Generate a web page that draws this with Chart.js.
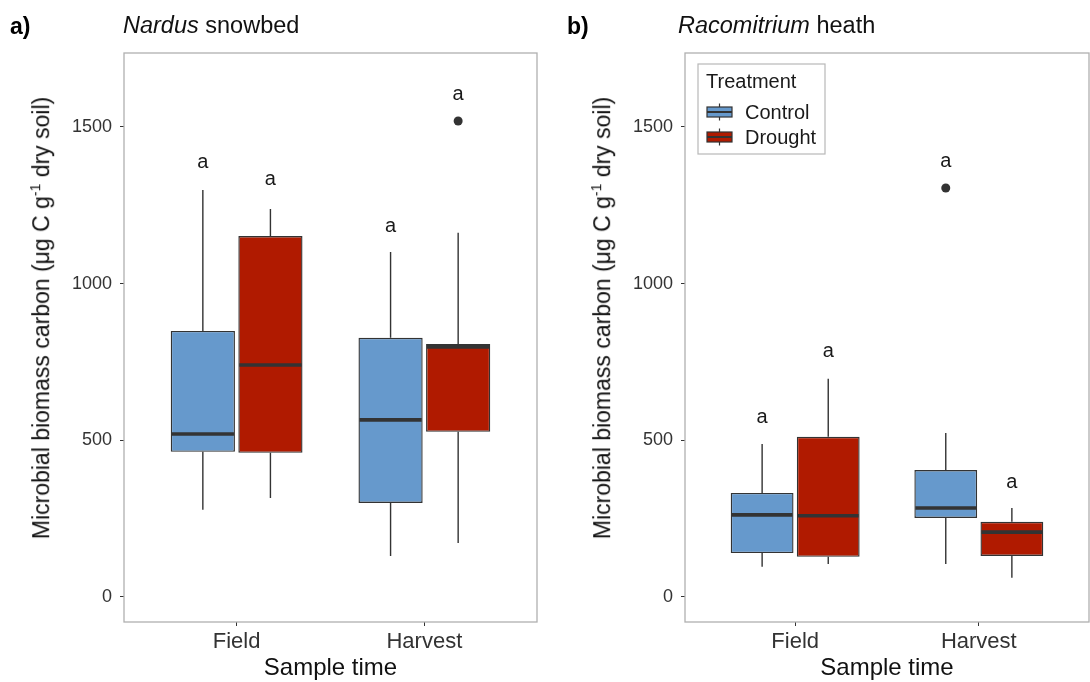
<!DOCTYPE html>
<html>
<head>
<meta charset="utf-8">
<script src="https://cdn.jsdelivr.net/npm/chart.js@4"></script>
<style>
  body { margin: 0; background: #fff; font-family: "Liberation Sans", Arial, sans-serif; }
  #wrap { position: relative; width: 1090px; height: 682px; overflow: hidden; }
  canvas { position: absolute; top: 0; }
  .tag { position: absolute; top: 15px; font-size: 23px; font-weight: bold; line-height: 22px; color: #000; }
  .ttl { position: absolute; top: 14px; font-size: 23.5px; line-height: 22px; color: #111; white-space: nowrap; }
  .ytitle { position: absolute; top: 318px; font-size: 23px; color: #111; white-space: nowrap;
            transform: translate(-50%, -50%) rotate(-90deg); }
  .ytitle sup { font-size: 14px; }
</style>
</head>
<body>
<div id="wrap">
  <canvas id="chartA" width="545" height="682" style="left:0"></canvas>
  <canvas id="chartB" width="545" height="682" style="left:545px"></canvas>
  <div class="tag" style="left:10px">a)</div>
  <div class="ttl" style="left:123px"><i>Nardus</i> snowbed</div>
  <div class="tag" style="left:567px">b)</div>
  <div class="ttl" style="left:678px"><i>Racomitrium</i> heath</div>
  <div class="ytitle" style="left:41px">Microbial biomass carbon (μg C g<sup>-1</sup> dry soil)</div>
  <div class="ytitle" style="left:602px">Microbial biomass carbon (μg C g<sup>-1</sup> dry soil)</div>
</div>
<script>
const sampleTimes = ['Field', 'Harvest'];
const treatments  = ['Control', 'Drought'];
const yTicks = [0, 500, 1000, 1500];

// box stats per sample time: [whisker low, q1, median, q3, whisker high]
const nardusControl = [[278, 463, 520, 849, 1299], [131, 300, 565, 827, 1101]];
const nardusDrought = [[316, 460, 740, 1152, 1238], [172, 527, 798, 807, 1162]];
const racoControl   = [[96, 140, 262, 332, 488], [105, 252, 284, 405, 523]];
const racoDrought   = [[105, 128, 259, 511, 696], [61, 131, 207, 240, 284]];

// outliers per sample time
const nardusControlOut = [[], []];
const nardusDroughtOut = [[], [1519]];
const racoControlOut   = [[], [1305]];
const racoDroughtOut   = [[], []];

// significance letters and where they sit
const nardusControlLetters = ['a', 'a'];
const nardusDroughtLetters = ['a', 'a'];
const racoControlLetters   = ['a', 'a'];
const racoDroughtLetters   = ['a', 'a'];
const nardusControlLetterY = [1388, 1181];
const nardusDroughtLetterY = [1331, 1602];
const racoControlLetterY   = [574, 1391];
const racoDroughtLetterY   = [782, 364];

const colors = ['#6699cc', '#b01a00'];
const ink = '#333333';

Chart.defaults.font.family = '"Liberation Sans", Arial, sans-serif';

const boxPlugin = {
  id: 'boxes',
  afterDatasetsDraw(chart) {
    const {ctx, scales: {y}} = chart;
    chart.data.datasets.forEach((ds, di) => {
      const meta = chart.getDatasetMeta(di);
      meta.data.forEach((bar, i) => {
        const [lo, q1, med, q3, hi] = ds.stats[i];
        const x = bar.x, half = bar.width / 2;
        ctx.save();
        ctx.strokeStyle = ink;
        ctx.lineWidth = 1.4;
        ctx.beginPath();
        ctx.moveTo(x, y.getPixelForValue(hi)); ctx.lineTo(x, y.getPixelForValue(q3));
        ctx.moveTo(x, y.getPixelForValue(q1)); ctx.lineTo(x, y.getPixelForValue(lo));
        ctx.stroke();
        ctx.lineWidth = 3.6;
        ctx.beginPath();
        ctx.moveTo(x - half + 1, y.getPixelForValue(med));
        ctx.lineTo(x + half - 1, y.getPixelForValue(med));
        ctx.stroke();
        ctx.fillStyle = ink;
        ds.outliers[i].forEach(v => {
          ctx.beginPath();
          ctx.arc(x, y.getPixelForValue(v), 4.5, 0, Math.PI * 2);
          ctx.fill();
        });
        ctx.fillStyle = '#1a1a1a';
        ctx.font = '20px "Liberation Sans", Arial, sans-serif';
        ctx.textAlign = 'center';
        ctx.textBaseline = 'alphabetic';
        ctx.fillText(ds.letters[i], x, y.getPixelForValue(ds.letterY[i]) + 5.5);
        ctx.restore();
      });
    });
  },
  afterDraw(chart) {
    const {ctx, chartArea: a} = chart;
    ctx.save();
    ctx.strokeStyle = '#b0b0b0';
    ctx.lineWidth = 1.3;
    ctx.strokeRect(a.left, a.top, a.right - a.left, a.bottom - a.top);
    const opts = chart.options.plugins.boxes || {};
    if (opts.legend) {
      const lx = a.left + 13, ly = a.top + 11;
      ctx.fillStyle = '#fff';
      ctx.fillRect(lx, ly, 127, 90);
      ctx.strokeStyle = '#b8b8b8';
      ctx.lineWidth = 1.2;
      ctx.strokeRect(lx, ly, 127, 90);
      ctx.fillStyle = '#1a1a1a';
      ctx.font = '20px "Liberation Sans", Arial, sans-serif';
      ctx.textAlign = 'left';
      ctx.textBaseline = 'alphabetic';
      ctx.fillText('Treatment', lx + 8, ly + 24);
      chart.data.datasets.forEach((ds, i) => {
        const cy = ly + 48 + i * 25;
        const kx = lx + 9;
        ctx.strokeStyle = ink;
        ctx.lineWidth = 1.2;
        ctx.beginPath();
        ctx.moveTo(kx + 12.5, cy - 8.5); ctx.lineTo(kx + 12.5, cy + 8.5);
        ctx.stroke();
        ctx.fillStyle = ds.backgroundColor;
        ctx.fillRect(kx, cy - 5, 25, 10);
        ctx.strokeRect(kx, cy - 5, 25, 10);
        ctx.lineWidth = 2;
        ctx.beginPath();
        ctx.moveTo(kx, cy); ctx.lineTo(kx + 25, cy);
        ctx.stroke();
        ctx.fillStyle = '#1a1a1a';
        ctx.textBaseline = 'middle';
        ctx.fillText(ds.label, lx + 47, cy + 1);
      });
    }
    ctx.restore();
  }
};

function makeDataset(i, stats, outliers, letters, letterY) {
  return {
    label: treatments[i],
    data: stats.map((s, k) => ({x: k + 1, y: [s[1], s[3]]})),
    stats, outliers, letters, letterY,
    backgroundColor: colors[i],
    borderColor: ink,
    borderWidth: 1.4,
    borderSkipped: false,
    categoryPercentage: 0.72,
    barPercentage: 0.95
  };
}

function makeChart(id, datasets, yWidth, rightPad, legend) {
  return new Chart(document.getElementById(id), {
    type: 'bar',
    data: {datasets},
    plugins: [boxPlugin],
    options: {
      responsive: false,
      animation: false,
      layout: {padding: {top: 53, right: rightPad, left: 0, bottom: 0}},
      plugins: {legend: {display: false}, tooltip: {enabled: false}, boxes: {legend}},
      scales: {
        x: {
          type: 'linear', min: 0.4, max: 2.6, offset: false,
          afterBuildTicks: s => { s.ticks = sampleTimes.map((t, k) => ({value: k + 1})); },
          afterFit: s => { s.height = 60; },
          ticks: {callback: v => sampleTimes[v - 1], color: '#333', font: {size: 22}, padding: 3, maxRotation: 0},
          grid: {drawOnChartArea: false, offset: false, tickLength: 4, color: ink},
          border: {display: false},
          title: {display: true, text: 'Sample time', color: '#111', font: {size: 24}, padding: {top: 0, bottom: -1}}
        },
        y: {
          min: -80, max: 1736,
          afterBuildTicks: s => { s.ticks = yTicks.map(v => ({value: v})); },
          afterFit: s => { s.width = yWidth; },
          ticks: {callback: v => String(v), color: '#333', font: {size: 18}, padding: 8},
          grid: {drawOnChartArea: false, tickLength: 4, color: ink},
          border: {display: false}
        }
      }
    }
  });
}

makeChart('chartA', [
  makeDataset(0, nardusControl, nardusControlOut, nardusControlLetters, nardusControlLetterY),
  makeDataset(1, nardusDrought, nardusDroughtOut, nardusDroughtLetters, nardusDroughtLetterY)
], 124, 8, false);

makeChart('chartB', [
  makeDataset(0, racoControl, racoControlOut, racoControlLetters, racoControlLetterY),
  makeDataset(1, racoDrought, racoDroughtOut, racoDroughtLetters, racoDroughtLetterY)
], 140, 1, true);
</script>
</body>
</html>
